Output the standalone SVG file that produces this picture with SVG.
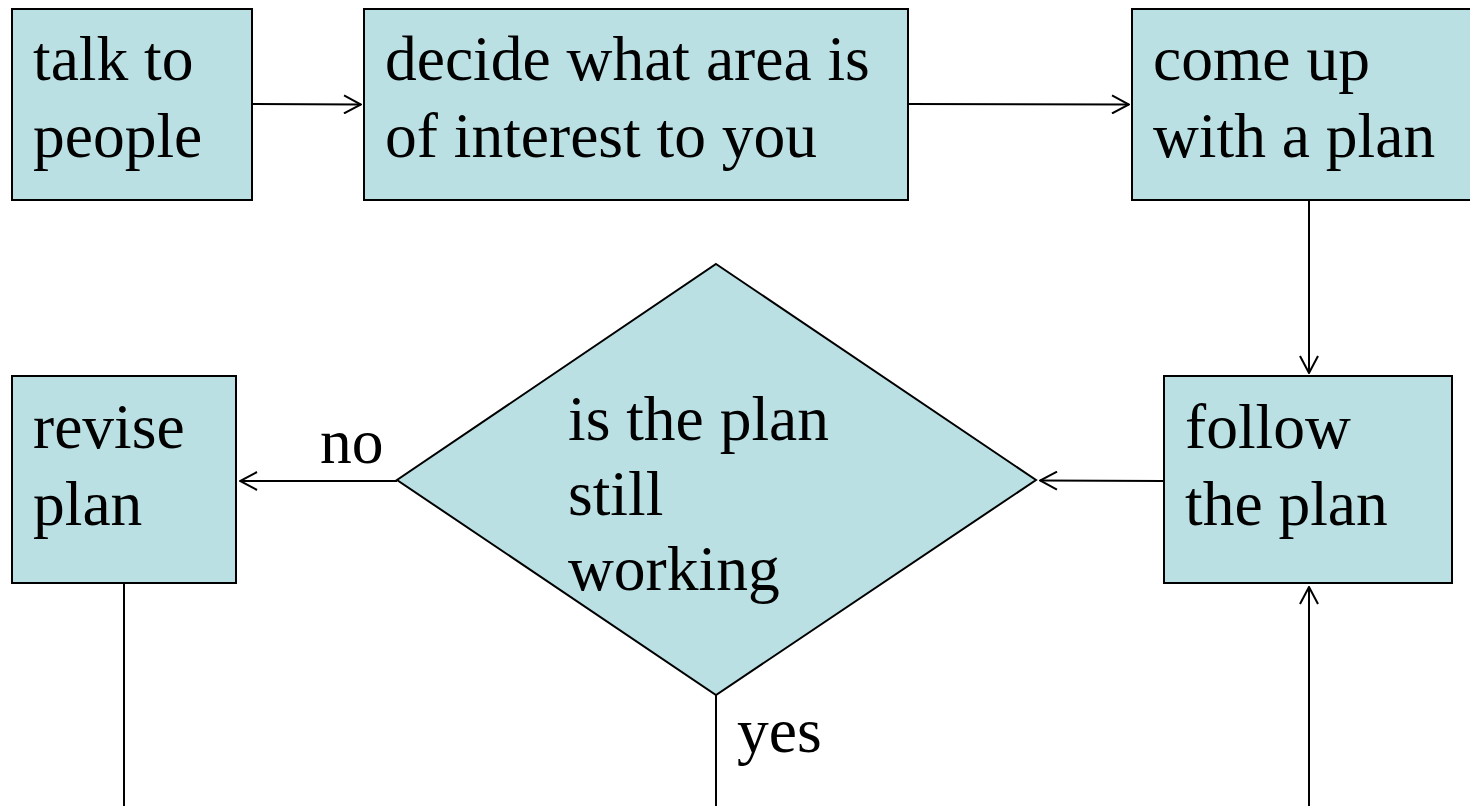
<svg xmlns="http://www.w3.org/2000/svg" width="1470" height="806" viewBox="0 0 1470 806">
<defs>
<style>
.box{fill:#BAE0E3;stroke:#000;stroke-width:2}
.t{font-family:'Liberation Serif','Times New Roman',serif;font-size:63.5px;fill:#000}
.c{fill:none;stroke:#000;stroke-width:2}
</style>
<marker id="ah" viewBox="0 0 20 20" refX="19" refY="10" markerWidth="20" markerHeight="20" markerUnits="userSpaceOnUse" orient="auto">
<path d="M2,1 L19,10 L2,19" fill="none" stroke="#000" stroke-width="2"/>
</marker>
</defs>
<rect width="1470" height="806" fill="#fff"/>
<g id="connectors">
<line class="c" x1="252" y1="104" x2="361" y2="104.5" marker-end="url(#ah)"/>
<line class="c" x1="908" y1="104" x2="1129" y2="104.5" marker-end="url(#ah)"/>
<line class="c" x1="1309" y1="200" x2="1309" y2="373" marker-end="url(#ah)"/>
<line class="c" x1="1164" y1="481" x2="1040" y2="480.5" marker-end="url(#ah)"/>
<line class="c" x1="397" y1="481" x2="240" y2="481" marker-end="url(#ah)"/>
<line class="c" x1="124" y1="583" x2="124" y2="806"/>
<line class="c" x1="716" y1="695" x2="716" y2="806"/>
<line class="c" x1="1309" y1="806" x2="1309" y2="587" marker-end="url(#ah)"/>
<text class="t" font-family="Liberation Serif, serif" x="320" y="463">no</text>
<text class="t" font-family="Liberation Serif, serif" x="737" y="752">yes</text>
</g>
<g id="talk">
<rect class="box" x="12" y="9" width="240" height="191"/>
<text class="t" font-family="Liberation Serif, serif" x="33" y="80">talk to</text>
<text class="t" font-family="Liberation Serif, serif" x="33" y="157">people</text>
</g>
<g id="decide">
<rect class="box" x="364" y="9" width="544" height="191"/>
<text class="t" font-family="Liberation Serif, serif" x="385" y="80">decide what area is</text>
<text class="t" font-family="Liberation Serif, serif" x="385" y="157">of interest to you</text>
</g>
<g id="comeup">
<rect class="box" x="1132" y="9" width="350" height="191"/>
<text class="t" font-family="Liberation Serif, serif" x="1153" y="80">come up</text>
<text class="t" font-family="Liberation Serif, serif" x="1153" y="157">with a plan</text>
</g>
<g id="revise">
<rect class="box" x="12" y="376" width="224" height="207"/>
<text class="t" font-family="Liberation Serif, serif" x="33" y="448">revise</text>
<text class="t" font-family="Liberation Serif, serif" x="33" y="525">plan</text>
</g>
<g id="follow">
<rect class="box" x="1164" y="376" width="288" height="207"/>
<text class="t" font-family="Liberation Serif, serif" x="1185" y="448">follow</text>
<text class="t" font-family="Liberation Serif, serif" x="1185" y="525">the plan</text>
</g>
<g id="decision">
<polygon class="box" points="716,264 1036,480 716,695 397,480"/>
<text class="t" font-family="Liberation Serif, serif" x="568" y="440">is the plan</text>
<text class="t" font-family="Liberation Serif, serif" x="568" y="515">still</text>
<text class="t" font-family="Liberation Serif, serif" x="568" y="590">working</text>
</g>
</svg>
